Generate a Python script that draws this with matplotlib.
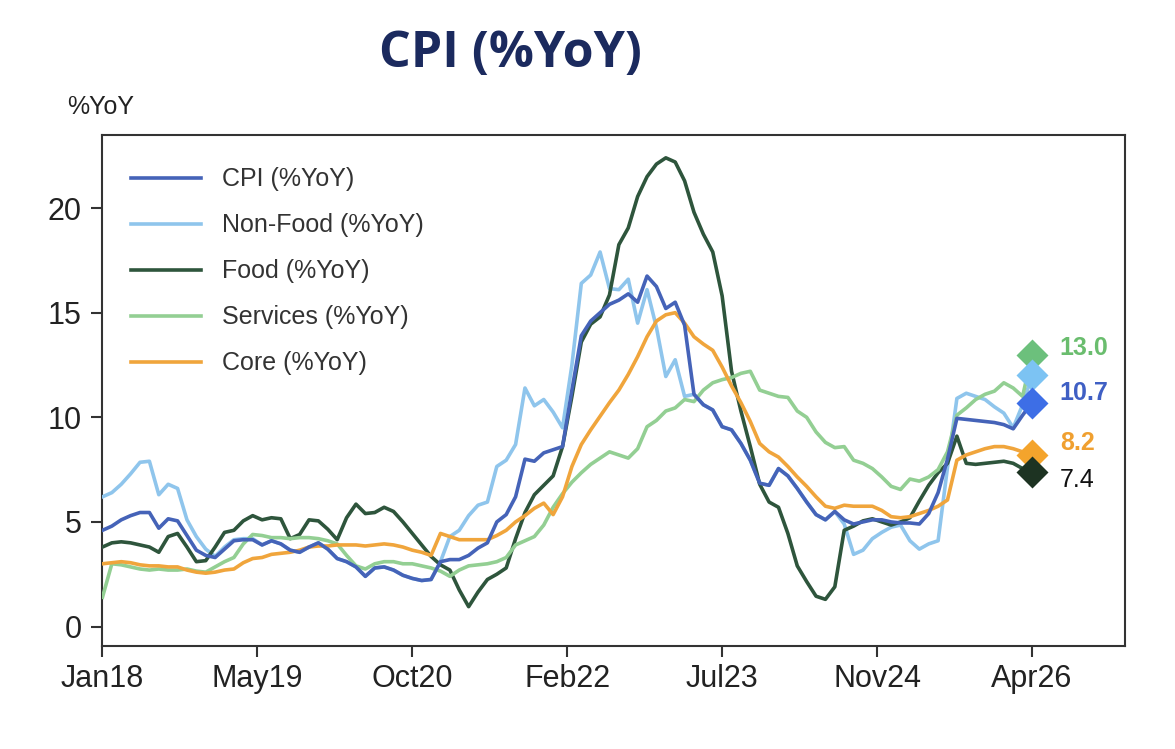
import numpy as np
import matplotlib.pyplot as plt

# monthly data, Jan 2018 .. Apr 2026 (100 months)
cpi = [4.6, 4.8, 5.1, 5.3, 5.45, 5.45, 4.7, 5.15, 5.05, 4.35,
       3.65, 3.4, 3.3, 3.7, 4.1, 4.15, 4.15, 3.9, 4.1, 3.95,
       3.65, 3.55, 3.8, 4.0, 3.7, 3.25, 3.1, 2.85, 2.4, 2.8,
       2.85, 2.7, 2.45, 2.3, 2.2, 2.25, 3.1, 3.2, 3.2, 3.4,
       3.75, 4.0, 5.0, 5.35, 6.2, 8.0, 7.9, 8.3, 8.45, 8.6,
       11.3, 13.9, 14.6, 15.0, 15.4, 15.6, 15.9, 15.5, 16.75, 16.25,
       15.2, 15.5, 14.4, 11.1, 10.6, 10.35, 9.55, 9.4, 8.75, 7.95,
       6.85, 6.75, 7.55, 7.2, 6.6, 5.95, 5.35, 5.1, 5.5, 5.1,
       4.9, 5.0, 5.1, 5.1, 5.0, 4.95, 4.95, 4.9, 5.4, 6.4,
       8.0, 9.95, 9.9, 9.85, 9.8, 9.75, 9.65, 9.45, 10.1, 10.7]

non_food = [6.2, 6.4, 6.8, 7.3, 7.85, 7.9, 6.3, 6.8, 6.6, 5.1,
            4.3, 3.7, 3.35, 3.8, 4.15, 4.2, 4.2, 3.9, 4.1, 3.95,
            3.65, 3.55, 3.8, 4.0, 3.7, 3.25, 3.1, 2.85, 2.4, 2.8,
            2.85, 2.7, 2.45, 2.3, 2.2, 2.25, 3.1, 4.3, 4.6, 5.3,
            5.8, 5.95, 7.65, 7.95, 8.7, 11.4, 10.55, 10.85, 10.25, 9.5,
            12.5, 16.4, 16.8, 17.9, 16.15, 16.1, 16.6, 14.5, 16.1, 14.3,
            11.95, 12.75, 11.0, 11.1, 10.6, 10.35, 9.55, 9.4, 8.75, 7.95,
            6.85, 6.75, 7.55, 7.2, 6.6, 5.95, 5.35, 5.1, 5.5, 4.9,
            3.45, 3.65, 4.2, 4.5, 4.75, 4.85, 4.1, 3.7, 3.95, 4.1,
            7.6, 10.9, 11.15, 11.0, 10.85, 10.5, 10.2, 9.5, 10.6, 12.0]

food = [3.8, 4.0, 4.05, 4.0, 3.9, 3.8, 3.55, 4.3, 4.45, 3.8,
        3.1, 3.15, 3.8, 4.5, 4.6, 5.05, 5.3, 5.1, 5.2, 5.15,
        4.2, 4.4, 5.1, 5.05, 4.65, 4.15, 5.2, 5.85, 5.4, 5.45,
        5.7, 5.5, 5.0, 4.45, 3.9, 3.35, 2.95, 2.7, 1.75, 0.95,
        1.65, 2.25, 2.5, 2.8, 4.2, 5.45, 6.3, 6.75, 7.2, 8.6,
        11.0, 13.6, 14.45, 14.8, 15.85, 18.25, 19.05, 20.55, 21.5, 22.1,
        22.4, 22.2, 21.3, 19.8, 18.75, 17.9, 15.8, 12.2, 10.3, 8.6,
        6.8, 5.95, 5.7, 4.45, 2.9, 2.15, 1.45, 1.3, 1.9, 4.6,
        4.8, 5.05, 5.15, 5.0, 4.85, 5.0, 5.2, 6.0, 6.75, 7.35,
        7.8, 9.1, 7.8, 7.75, 7.8, 7.85, 7.9, 7.8, 7.55, 7.4]

services = [1.4, 3.0, 2.95, 2.85, 2.75, 2.7, 2.75, 2.7, 2.7, 2.75,
            2.65, 2.6, 2.85, 3.1, 3.3, 3.95, 4.4, 4.35, 4.25, 4.25,
            4.2, 4.25, 4.25, 4.2, 4.1, 3.95, 3.4, 2.9, 2.75, 3.0,
            3.1, 3.1, 3.0, 3.0, 2.9, 2.8, 2.65, 2.4, 2.7, 2.9,
            2.95, 3.0, 3.1, 3.3, 3.9, 4.1, 4.3, 4.85, 5.7, 6.35,
            6.9, 7.35, 7.75, 8.05, 8.35, 8.2, 8.05, 8.5, 9.55, 9.85,
            10.3, 10.45, 10.85, 10.75, 11.3, 11.65, 11.8, 11.9, 12.1, 12.2,
            11.3, 11.15, 11.0, 10.95, 10.3, 10.0, 9.3, 8.8, 8.55, 8.6,
            7.95, 7.8, 7.55, 7.15, 6.7, 6.55, 7.05, 6.95, 7.15, 7.5,
            8.35, 10.1, 10.45, 10.85, 11.1, 11.25, 11.65, 11.4, 11.0, 13.0]

core = [3.0, 3.05, 3.1, 3.05, 2.95, 2.9, 2.9, 2.85, 2.85, 2.7,
        2.6, 2.55, 2.6, 2.7, 2.75, 3.05, 3.25, 3.3, 3.45, 3.5,
        3.55, 3.65, 3.8, 3.85, 3.85, 3.9, 3.9, 3.9, 3.85, 3.9,
        3.95, 3.9, 3.8, 3.65, 3.55, 3.4, 4.45, 4.3, 4.15, 4.15,
        4.15, 4.15, 4.35, 4.6, 5.0, 5.3, 5.65, 5.9, 5.35, 6.2,
        7.65, 8.7, 9.4, 10.05, 10.7, 11.3, 12.05, 12.9, 13.85, 14.6,
        14.9, 15.0, 14.5, 13.85, 13.5, 13.2, 12.4, 11.5, 10.7, 9.8,
        8.75, 8.35, 8.1, 7.65, 7.15, 6.7, 6.2, 5.75, 5.65, 5.8,
        5.75, 5.75, 5.75, 5.55, 5.25, 5.2, 5.25, 5.4, 5.55, 5.75,
        6.05, 7.95, 8.2, 8.35, 8.5, 8.6, 8.6, 8.5, 8.35, 8.2]

tick_labels = ["Jan18", "May19", "Oct20", "Feb22", "Jul23", "Nov24", "Apr26"]
series_names = ["CPI (%YoY)", "Non-Food (%YoY)", "Food (%YoY)",
                "Services (%YoY)", "Core (%YoY)"]

plt.rcParams["font.family"] = ["Liberation Sans", "DejaVu Sans"]

line_colors = ["#4563b8", "#8fc5ec", "#2e553c", "#93cf93", "#f0a53c"]
marker_colors = ["#3d6ee6", "#7cc3f3", "#1d3322", "#6cc07c", "#f4a42c"]
label_colors = ["#3f5fc4", None, "#111111", "#6abd6e", "#f0a030"]
label_dy = [0.45, 0, -0.4, 0.3, 0.55]

fig = plt.figure(figsize=(11.75, 7.49), dpi=100)
ax = fig.add_axes([0.0872, 0.1375, 0.8702, 0.6825])

data = [cpi, non_food, food, services, core]
x = np.arange(len(cpi))
zorders = [4, 3, 3, 3, 3]
for vals, name, col, z in zip(data, series_names, line_colors, zorders):
    ax.plot(x, vals, color=col, lw=2.6, label=name, zorder=z,
            solid_joinstyle="round")

# end-point diamonds: drawn from the highest value down so lower ones overlap
last = x[-1]
order = [3, 1, 0, 4, 2]
for k in order:
    v = data[k][-1]
    ax.plot(last, v, marker="D", ms=16, color=marker_colors[k],
            mec="none", zorder=6, clip_on=False)
    if label_colors[k] is not None:
        ax.annotate(f"{v:.1f}", (last, v + label_dy[k]),
                    xytext=(20, 0), textcoords="offset points",
                    ha="left", va="center", fontsize=18,
                    fontweight="bold" if k != 2 else "normal",
                    color=label_colors[k])

ax.set_xlim(0, 108.9)
ax.set_ylim(-0.93, 23.5)
ax.set_yticks([0, 5, 10, 15, 20])
ax.set_xticks(np.linspace(0, last, len(tick_labels)))
ax.set_xticklabels(tick_labels)

for s in ax.spines.values():
    s.set_color("#333333")
    s.set_linewidth(1.5)
ax.tick_params(axis="both", direction="out", length=8, width=1.5,
               color="#333333", labelsize=22, labelcolor="#222222")
ax.tick_params(axis="x", pad=5)
ax.tick_params(axis="y", pad=7)

leg = ax.legend(loc="upper left", frameon=False, fontsize=18,
                handlelength=2.8, handletextpad=0.85, labelspacing=0.88,
                bbox_to_anchor=(-0.004, 1.0), borderaxespad=0.9)
for t in leg.get_texts():
    t.set_color("#333333")

fig.text(101 / 1175, 1 - 107 / 749, "%YoY", ha="center", va="center",
         fontsize=18, color="#222222")
fig.text(510 / 1175, 1 - 54 / 749, "CPI (%YoY)", ha="center", va="center",
         fontsize=36, fontweight="bold", color="#1b2a5e", family="Open Sans")

fig.savefig("out.png", dpi=100)
